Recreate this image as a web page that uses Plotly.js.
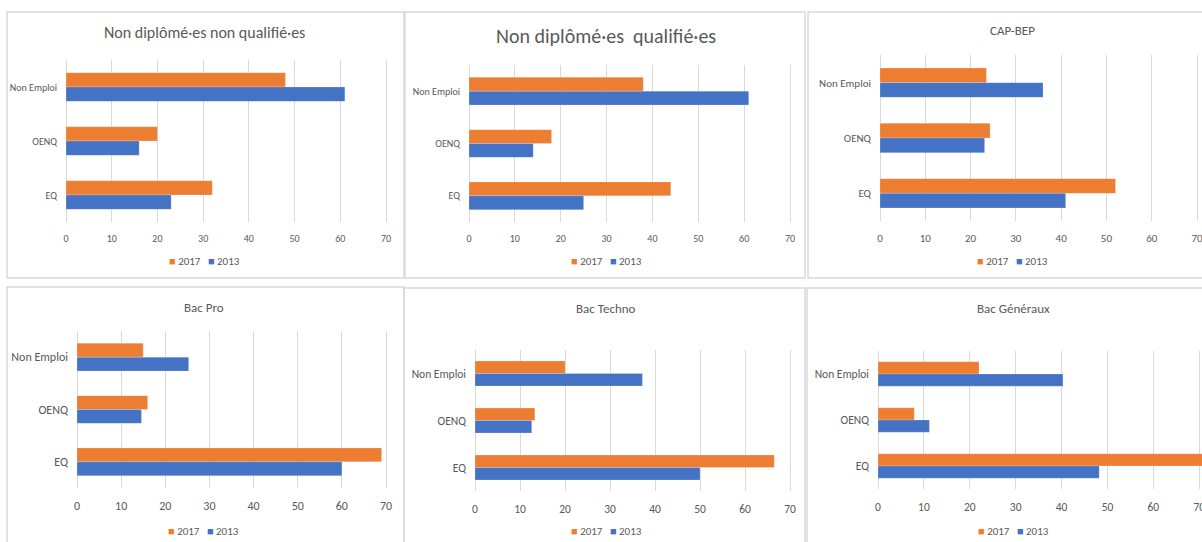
<!DOCTYPE html>
<html>
<head>
<meta charset="utf-8">
<script src="https://cdn.plot.ly/plotly-3.0.1.min.js"></script>
<style>html,body{margin:0;padding:0;background:#fff;}#chart{width:1202px;height:542px;}</style>
</head>
<body>
<div id="chart"></div>
<script>
// ---- Data ----
const categories = ["Non Emploi", "OENQ", "EQ"];
const xTicks = [0, 10, 20, 30, 40, 50, 60, 70];
const seriesNames = ["2017", "2013"];
const panelTitles = ["Non diplômé·es non qualifié·es", "Non diplômé·es  qualifié·es", "CAP-BEP", "Bac Pro", "Bac Techno", "Bac Généraux"];

const nonDiplNonQual2017 = [48, 20, 32];
const nonDiplNonQual2013 = [61, 16, 23];
const nonDiplQual2017 = [38, 18, 44];
const nonDiplQual2013 = [61, 14, 25];
const capBep2017 = [23.5, 24.3, 52];
const capBep2013 = [36, 23.1, 41];
const bacPro2017 = [15, 16, 69];
const bacPro2013 = [25.3, 14.6, 60];
const bacTechno2017 = [20, 13.3, 66.5];
const bacTechno2013 = [37.2, 12.6, 50];
const bacGen2017 = [22, 7.9, 71];
const bacGen2013 = [40.3, 11.2, 48.2];

const values2017 = [nonDiplNonQual2017, nonDiplQual2017, capBep2017, bacPro2017, bacTechno2017, bacGen2017];
const values2013 = [nonDiplNonQual2013, nonDiplQual2013, capBep2013, bacPro2013, bacTechno2013, bacGen2013];

// ---- Layout geometry (pixels) ----
const W = 1202, H = 542;
const colors = {"2017": "#ED7D31", "2013": "#4472C4"};
const textCol = "#595959";
const FONT = "Carlito, Lato, 'Liberation Sans', sans-serif";
const XMAX = 70.6; // a bit past 70 so the 70 gridline is drawn

// plot: [x at 0, x at 70, top, bottom]
const panels = [
  {plot:[66,386,60,222],  title:[205,33,16], legend:[205,261], tick:10, ytick:10, box:[7,404,12,278]},
  {plot:[469,790,65,222], title:[606,36,20], legend:[606,261], tick:10, ytick:10, box:[405,805,12,278]},
  {plot:[880,1197,55,221],title:[1012,30,13], legend:[1012,261], tick:11, ytick:11, box:[808,1215,12,278]},
  {plot:[77,386,331,488], title:[204,307,13], legend:[204,531], tick:12, ytick:12, box:[7,404,287,548]},
  {plot:[475,790,350,491],title:[606,308,13], legend:[606,531], tick:11.5, ytick:11.5, box:[404,805,288,548]},
  {plot:[878,1200,351,489],title:[1013,308,13], legend:[1013,531], tick:11.5, ytick:11.5, box:[807,1215,288,548]}
];

const px = x => x / W;
const py = y => 1 - y / H;

const data = [];
const layout = {
  width: W, height: H,
  margin: {l:0, r:0, t:0, b:0},
  paper_bgcolor: "#fff", plot_bgcolor: "rgba(0,0,0,0)",
  barmode: "group", bargap: 0.47, bargroupgap: 0,
  font: {family: FONT, color: textCol},
  showlegend: false,
  annotations: [], shapes: []
};

panels.forEach((p, i) => {
  const n = i + 1;
  const xa = n === 1 ? "x" : "x" + n;
  const ya = n === 1 ? "y" : "y" + n;
  const scale = (p.plot[1] - p.plot[0]) / 70;
  const right = p.plot[0] + XMAX * scale;
  [["2017", values2017[i]], ["2013", values2013[i]]].forEach(([name, vals]) => {
    data.push({
      type: "bar", orientation: "h", name: name,
      x: vals, y: categories, xaxis: xa, yaxis: ya,
      marker: {color: colors[name], line: {color: "rgba(255,255,255,0.35)", width: 0.6}},
      hoverinfo: "x+y+name"
    });
  });
  layout["xaxis" + (n === 1 ? "" : n)] = {
    domain: [px(p.plot[0]), Math.min(1, px(right))], anchor: ya,
    range: [0, XMAX], tickvals: xTicks, ticktext: xTicks.map(String),
    showgrid: true, gridcolor: "#d9d9d9", gridwidth: 1,
    zeroline: true, zerolinecolor: "#d9d9d9", zerolinewidth: 1,
    showline: false, ticks: "", ticklabelstandoff: 9, ticklabeloverflow: "allow",
    tickfont: {size: p.tick, color: textCol, family: FONT}, fixedrange: true
  };
  layout["yaxis" + (n === 1 ? "" : n)] = {
    domain: [py(p.plot[3]), py(p.plot[2])], anchor: xa,
    type: "category", categoryorder: "array", categoryarray: categories,
    autorange: "reversed", showgrid: false, zeroline: false, showline: false,
    ticks: "", ticklabelstandoff: 8,
    tickfont: {size: p.ytick, color: textCol, family: FONT}, fixedrange: true
  };
  // legend (drawn as text: coloured square + series name)
  const legText = seriesNames.map(s =>
    '<span style="color:' + colors[s] + '">■</span> ' + s).join('   ');
  layout.annotations.push({
    xref: "paper", yref: "paper", x: px(p.legend[0]), y: py(p.legend[1]),
    xanchor: "center", yanchor: "middle", showarrow: false,
    text: legText, font: {size: 11, color: textCol, family: FONT}
  });
  layout.annotations.push({
    xref: "paper", yref: "paper", x: px(p.title[0]), y: py(p.title[1]),
    xanchor: "center", yanchor: "middle", showarrow: false,
    text: panelTitles[i], font: {size: p.title[2], color: textCol, family: FONT}
  });
  layout.shapes.push({
    type: "rect", xref: "paper", yref: "paper",
    x0: px(p.box[0]), x1: px(p.box[1]), y0: py(p.box[3]), y1: py(p.box[2]),
    line: {color: "#d9d9d9", width: 1.5}, fillcolor: "rgba(0,0,0,0)", layer: "below"
  });
});

Plotly.newPlot("chart", data, layout, {displayModeBar: false});
</script>
</body>
</html>
